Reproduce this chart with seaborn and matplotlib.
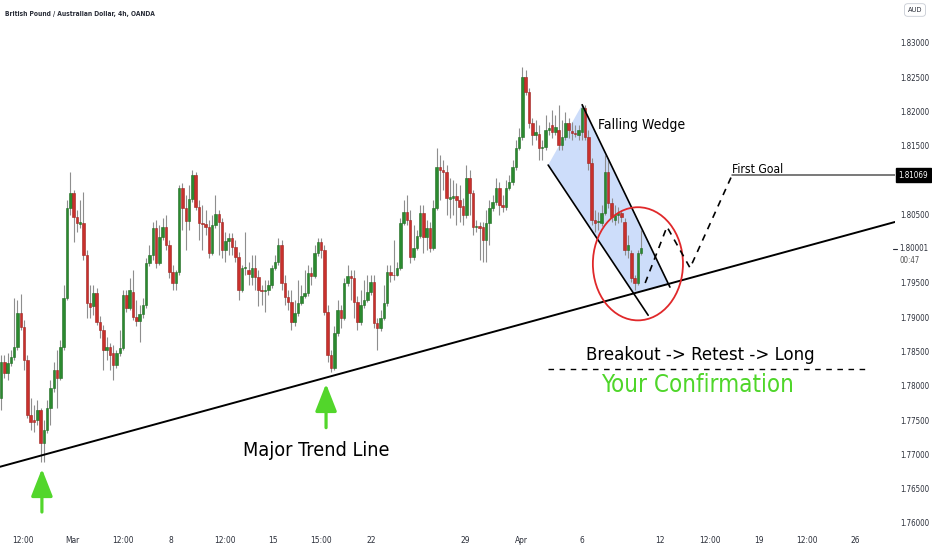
import numpy as np
import pandas as pd
import matplotlib
matplotlib.use("Agg")
import matplotlib.pyplot as plt
import matplotlib.transforms as mtransforms
from matplotlib.patches import Ellipse, Polygon
import seaborn as sns

# ---------------- data ----------------
opens = [1.7782,1.7835,1.7819,1.7833,1.7842,1.7857,1.7906,1.7886,1.7838,1.7757,
         1.7750,1.7750,1.7765,1.7717,1.7736,1.7768,1.7797,1.7823,1.7811,1.7857,
         1.7928,1.8059,1.8081,1.8046,1.8036,1.8037,1.7991,1.7921,1.7916,1.7935,
         1.7893,1.7881,1.7852,1.7857,1.7848,1.7830,1.7848,1.7855,1.7933,1.7914,
         1.7937,1.7900,1.7894,1.7905,1.7918,1.7979,1.7991,1.8030,1.7979,1.8017,
         1.8032,1.8005,1.7966,1.7950,1.7966,1.8088,1.8059,1.8040,1.8072,1.8108,
         1.8061,1.8038,1.8036,1.8032,1.7994,1.8035,1.8051,1.8039,1.7998,1.8011,
         1.8016,1.8002,1.7988,1.7940,1.7972,1.7969,1.7959,1.7972,1.7959,1.7940,
         1.7938,1.7940,1.7947,1.7972,1.7981,1.8005,1.7950,1.7930,1.7922,1.7893,
         1.7906,1.7921,1.7931,1.7935,1.7965,1.7960,1.7994,1.8010,1.7998,1.7908,
         1.7845,1.7826,1.7877,1.7911,1.7899,1.7950,1.7960,1.7957,1.7922,1.7893,
         1.7918,1.7925,1.7937,1.7951,1.7892,1.7884,1.7899,1.7921,1.7966,1.7962,
         1.7961,1.7972,1.8037,1.8053,1.8042,1.7988,1.8001,1.8018,1.8052,1.8017,
         1.8030,1.8001,1.8059,1.8119,1.8115,1.8112,1.8073,1.8074,1.8077,1.8071,
         1.8063,1.8049,1.8103,1.8081,1.8032,1.8033,1.8032,1.8013,1.8037,1.8059,
         1.8068,1.8088,1.8064,1.8061,1.8088,1.8097,1.8119,1.8147,1.8163,1.8250,
         1.8228,1.8183,1.8166,1.8168,1.8147,1.8148,1.8173,1.8180,1.8170,1.8173,
         1.8151,1.8163,1.8183,1.8172,1.8169,1.8166,1.8170,1.8205,1.8163,1.8125,
         1.8042,1.8039,1.8037,1.8052,1.8112,1.8067,1.8042,1.8049,1.8052,1.8039,
         1.7998,1.7994,1.7957,1.7950,1.7994]
highs = [1.7845,1.7845,1.7848,1.7852,1.7928,1.7925,1.7934,1.7896,1.7845,1.7782,
         1.7772,1.7779,1.7768,1.7750,1.7779,1.7809,1.7835,1.7852,1.7867,1.7947,
         1.8071,1.8112,1.8086,1.8056,1.8071,1.8083,1.7998,1.7947,1.7947,1.7943,
         1.7902,1.7889,1.7871,1.7862,1.7860,1.7852,1.7881,1.7940,1.7940,1.7957,
         1.7969,1.7925,1.7918,1.7928,1.7986,1.8005,1.8039,1.8042,1.8035,1.8045,
         1.8049,1.8013,1.7976,1.7969,1.8093,1.8096,1.8078,1.8093,1.8115,1.8112,
         1.8071,1.8064,1.8056,1.8042,1.8049,1.8078,1.8056,1.8045,1.8024,1.8023,
         1.8023,1.8013,1.7995,1.7976,1.8024,1.7981,1.7991,1.7991,1.7969,1.7947,
         1.7954,1.7954,1.7976,1.7991,1.8016,1.8013,1.7962,1.7940,1.7940,1.7925,
         1.7954,1.7947,1.7969,1.7976,1.7973,1.8005,1.8016,1.8016,1.8005,1.7918,
         1.7852,1.7887,1.7925,1.7918,1.7957,1.7976,1.7969,1.7969,1.7931,1.7940,
         1.7954,1.7962,1.7962,1.7962,1.7899,1.7911,1.7947,1.7976,1.7976,1.8013,
         1.7981,1.8045,1.8071,1.8078,1.8056,1.8035,1.8027,1.8064,1.8064,1.8042,
         1.8039,1.8071,1.8147,1.8137,1.8129,1.8122,1.8103,1.8100,1.8096,1.8093,
         1.8074,1.8122,1.8115,1.8086,1.8042,1.8039,1.8039,1.8056,1.8071,1.8078,
         1.8103,1.8097,1.8078,1.8100,1.8108,1.8129,1.8159,1.8176,1.8265,1.8261,
         1.8234,1.8191,1.8188,1.8180,1.8159,1.8195,1.8185,1.8202,1.8195,1.8210,
         1.8188,1.8199,1.8191,1.8185,1.8180,1.8180,1.8211,1.8210,1.8173,1.8132,
         1.8056,1.8053,1.8064,1.8137,1.8129,1.8074,1.8064,1.8061,1.8056,1.8045,
         1.8020,1.7998,1.7962,1.7998,1.8027]
lows = [1.7765,1.7811,1.7809,1.7829,1.7838,1.7852,1.7881,1.7823,1.7753,1.7736,
        1.7733,1.7743,1.7689,1.7689,1.7731,1.7743,1.7791,1.7768,1.7809,1.7852,
        1.7925,1.8049,1.8010,1.8024,1.8030,1.7984,1.7899,1.7899,1.7903,1.7889,
        1.7870,1.7823,1.7838,1.7823,1.7809,1.7826,1.7844,1.7852,1.7908,1.7911,
        1.7896,1.7887,1.7864,1.7899,1.7914,1.7975,1.7984,1.7972,1.7976,1.8013,
        1.7998,1.7957,1.7940,1.7940,1.7962,1.8027,1.7998,1.8027,1.8068,1.8056,
        1.8013,1.7998,1.8020,1.7986,1.7991,1.8030,1.7991,1.7986,1.7981,1.7991,
        1.7991,1.7981,1.7925,1.7937,1.7962,1.7947,1.7947,1.7940,1.7916,1.7918,
        1.7908,1.7933,1.7943,1.7969,1.7976,1.7940,1.7918,1.7911,1.7881,1.7887,
        1.7902,1.7918,1.7928,1.7931,1.7947,1.7957,1.7989,1.7986,1.7903,1.7835,
        1.7820,1.7823,1.7873,1.7884,1.7896,1.7946,1.7925,1.7899,1.7881,1.7889,
        1.7914,1.7922,1.7933,1.7884,1.7852,1.7880,1.7896,1.7916,1.7951,1.7954,
        1.7960,1.7969,1.8034,1.8034,1.7979,1.7984,1.7998,1.8016,1.7994,1.7998,
        1.7995,1.7998,1.8056,1.8071,1.8086,1.8049,1.8045,1.8049,1.8035,1.8039,
        1.8035,1.8045,1.8049,1.8020,1.8024,1.7984,1.7981,1.7981,1.8005,1.8055,
        1.8064,1.8049,1.8053,1.8056,1.8086,1.8093,1.8115,1.8144,1.8159,1.8224,
        1.8176,1.8151,1.8159,1.8129,1.8129,1.8144,1.8166,1.8161,1.8166,1.8144,
        1.8144,1.8159,1.8161,1.8159,1.8163,1.8159,1.8159,1.8159,1.8115,1.8035,
        1.8024,1.8027,1.8033,1.8049,1.8059,1.8039,1.8035,1.8037,1.8039,1.7991,
        1.7986,1.7951,1.7940,1.7947,1.7991]
closes = [1.7835,1.7819,1.7833,1.7842,1.7857,1.7906,1.7886,1.7838,1.7757,1.7747,
          1.7747,1.7765,1.7717,1.7736,1.7768,1.7797,1.7823,1.7811,1.7857,1.7928,
          1.8059,1.8081,1.8046,1.8037,1.8039,1.7991,1.7921,1.7915,1.7935,1.7893,
          1.7881,1.7852,1.7857,1.7845,1.7830,1.7848,1.7855,1.7933,1.7914,1.7940,
          1.7900,1.7894,1.7905,1.7918,1.7979,1.7991,1.8030,1.7979,1.8017,1.8032,
          1.8005,1.7966,1.7950,1.7966,1.8088,1.8059,1.8040,1.8072,1.8108,1.8061,
          1.8037,1.8036,1.8032,1.7994,1.8035,1.8051,1.8039,1.7998,1.8011,1.8016,
          1.8002,1.7988,1.7940,1.7972,1.7973,1.7963,1.7972,1.7959,1.7940,1.7938,
          1.7940,1.7947,1.7972,1.7981,1.8005,1.7950,1.7930,1.7922,1.7893,1.7906,
          1.7921,1.7931,1.7935,1.7965,1.7960,1.7994,1.8010,1.7998,1.7908,1.7845,
          1.7826,1.7877,1.7911,1.7899,1.7950,1.7960,1.7957,1.7922,1.7893,1.7918,
          1.7925,1.7937,1.7951,1.7892,1.7884,1.7899,1.7921,1.7966,1.7962,1.7961,
          1.7972,1.8037,1.8053,1.8042,1.7988,1.8001,1.8018,1.8052,1.8017,1.8030,
          1.8001,1.8059,1.8119,1.8115,1.8112,1.8074,1.8075,1.8077,1.8071,1.8061,
          1.8049,1.8103,1.8081,1.8032,1.8033,1.8030,1.8013,1.8037,1.8059,1.8068,
          1.8088,1.8064,1.8061,1.8088,1.8097,1.8119,1.8147,1.8163,1.8250,1.8228,
          1.8183,1.8166,1.8170,1.8147,1.8148,1.8173,1.8176,1.8170,1.8178,1.8151,
          1.8163,1.8183,1.8173,1.8169,1.8168,1.8173,1.8205,1.8163,1.8125,1.8042,
          1.8037,1.8040,1.8052,1.8112,1.8067,1.8046,1.8049,1.8052,1.8046,1.7998,
          1.8005,1.7957,1.7950,1.7994,1.8001]

time_tick_pos = [6.7, 21.5, 37.0, 51.5, 67.9, 82.4, 97.0, 112.1, 140.6, 157.6,
                 176.0, 199.7, 214.8, 229.7, 244.2, 258.8]
time_tick_labels = ["12:00", "Mar", "12:00", "8", "12:00", "15", "15:00", "22",
                    "29", "Apr", "6", "12", "12:00", "19", "12:00", "26"]
price_ticks = [1.760, 1.765, 1.770, 1.775, 1.780, 1.785, 1.790, 1.795,
               1.805, 1.815, 1.820, 1.825, 1.830]
last_price = 1.80001
goal_price = 1.81069

trend_x = [-0.3, 270.9]
trend_y = [1.7682, 1.8039]
wedge_upper_x = [176.1, 202.7]
wedge_upper_y = [1.8210, 1.7944]
wedge_lower_x = [165.8, 196.1]
wedge_lower_y = [1.8122, 1.7903]
wedge_fill_x = [165.8, 176.1, 202.3, 191.7]
wedge_fill_y = [1.8122, 1.8210, 1.7949, 1.7935]
path_x = [195.2, 201.8, 208.8, 221.5]
path_y = [1.7950, 1.8032, 1.7972, 1.8107]

# ---------------- style ----------------
sns.set_theme(style="white")
plt.rcParams["font.family"] = ["DejaVu Sans"]

GREEN = "#2b8a2f"
RED = "#c9302c"
WICK = "#8e8e8e"
ARROW_GREEN = "#52d62b"
TXT = "#2a2e39"
cond = dict(fontstretch="condensed")

df = pd.DataFrame({"o": opens, "h": highs, "l": lows, "c": closes})
df["i"] = np.arange(len(df))
df["up"] = df["c"] >= df["o"]

fig = plt.figure(figsize=(9.32, 5.5), dpi=100)
ax = fig.add_axes([0.0, 22 / 550, 895 / 932, 528 / 550])
ax.set_xlim(-0.3, 270.9)
ax.set_ylim(1.75927, 1.83627)

# wedge fill (behind candles)
ax.add_patch(Polygon(list(zip(wedge_fill_x, wedge_fill_y)), closed=True,
                     facecolor="#5b8ff0", alpha=0.3, edgecolor="none", zorder=1))

# candles
ax.vlines(df["i"], df["l"], df["h"], color=WICK, lw=0.8, zorder=2)
body_bottom = np.minimum(df["o"], df["c"])
body_h = np.maximum(np.abs(df["c"] - df["o"]), 0.00012)
colors = np.where(df["up"], GREEN, RED)
edges = np.where(df["up"], "#1f6b22", "#9c2320")
ax.bar(df["i"], body_h, bottom=body_bottom, width=0.74, color=colors,
       edgecolor=edges, linewidth=0.4, zorder=3)

# major trend line
sns.lineplot(x=trend_x, y=trend_y, ax=ax, color="black", lw=1.4, zorder=5)

# wedge lines
ax.plot(wedge_upper_x, wedge_upper_y, color="black", lw=1.2, zorder=5)
ax.plot(wedge_lower_x, wedge_lower_y, color="black", lw=1.2, zorder=5)

# red circle
ax.add_patch(Ellipse((193.0, 1.7978), width=27.3, height=0.0165,
                     fill=False, edgecolor="#e0282a", lw=1.3, zorder=6))

# projected dashed path and goal line
ax.plot(path_x, path_y, color="black", lw=1.2, ls=(0, (4, 3.5)), zorder=6)
ax.plot([path_x[-1], 270.9], [goal_price, goal_price], color="#555555", lw=1.1, zorder=6)

# dashed separator
ax.plot([165.8, 263.3], [1.78245, 1.78245], color="black", lw=1.0,
        ls=(0, (4, 4)), zorder=6)

# green arrows
for ax_x, tip, tail in [(12.4, 1.7679, 1.7616), (98.5, 1.7803, 1.7739)]:
    ax.annotate("", xy=(ax_x, tip), xytext=(ax_x, tail),
                arrowprops=dict(arrowstyle="-|>,head_width=0.55,head_length=1.4",
                                color=ARROW_GREEN, lw=2.3, shrinkA=0, shrinkB=0),
                zorder=7)

# texts
ax.text(180.9, 1.8180, "Falling Wedge", fontsize=10, ha="left", va="center",
        color="black", zorder=8, **cond)
ax.text(221.5, 1.81104, "First Goal", fontsize=8.7, ha="left", va="baseline",
        color="black", zorder=8, **cond)
ax.text(95.5, 1.7705, "Major Trend Line", fontsize=14.2, ha="center", va="center",
        color="black", zorder=8, **cond)
ax.text(211.8, 1.7845, "Breakout -> Retest -> Long", fontsize=13.3, ha="center",
        va="center", color="black", zorder=8, **cond)
ax.text(211.2, 1.7801, "Your Confirmation", fontsize=17.3, ha="center", va="center",
        color="#4fd62a", zorder=8, **cond)

# axes styling
for s in ax.spines.values():
    s.set_visible(False)
ax.grid(False)
ax.set_xticks(time_tick_pos)
ax.set_xticklabels(time_tick_labels, fontsize=6, color=TXT, **cond)
ax.yaxis.tick_right()
ax.set_yticks(price_ticks)
ax.set_yticklabels([f"{v:.5f}" for v in price_ticks], fontsize=5.7, color=TXT, **cond)
ax.tick_params(axis="x", length=0, pad=6)
ax.tick_params(axis="y", length=0, pad=3.5)
ax.set_xlabel("")
ax.set_ylabel("")

blend = mtransforms.blended_transform_factory(ax.transAxes, ax.transData)
ax.text(1.004, goal_price, "1.81069", transform=blend, fontsize=5.8, color="white",
        ha="left", va="center", clip_on=False, zorder=9, **cond,
        bbox=dict(boxstyle="square,pad=0.3", facecolor="black", edgecolor="black"))
ax.text(1.0045, last_price, "1.80001", transform=blend, fontsize=5.7, color=TXT,
        ha="left", va="center", clip_on=False, **cond)
ax.text(1.0045, last_price - 0.0017, "00:47", transform=blend, fontsize=5.7,
        color="#555555", ha="left", va="center", clip_on=False, **cond)
ax.plot([0.998, 1.002], [last_price, last_price], transform=blend, color=TXT,
        lw=0.8, clip_on=False)

fig.text(5 / 932, 1 - 14 / 550, "British Pound / Australian Dollar, 4h, OANDA",
         fontsize=4.8, fontweight="bold", color=TXT, ha="left", va="center", **cond)
fig.text(915 / 932, 1 - 10 / 550, "AUD", fontsize=5.3, color=TXT, ha="center",
         va="center", **cond,
         bbox=dict(boxstyle="round,pad=0.45", facecolor="white", edgecolor="#c8ccd4", lw=0.6))

fig.savefig("out.png", dpi=100, facecolor="white")
